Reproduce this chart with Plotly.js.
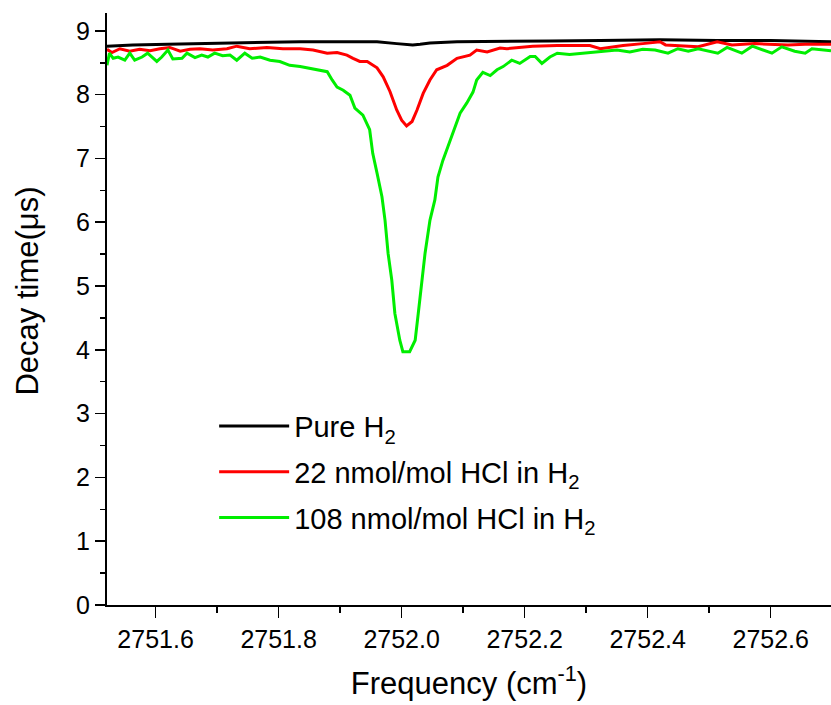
<!DOCTYPE html>
<html>
<head>
<meta charset="utf-8">
<script src="https://cdn.plot.ly/plotly-3.0.1.min.js"></script>
<style>html,body{margin:0;padding:0;background:#fff;}#chart{width:831px;height:705px;}</style>
</head>
<body>
<div id="chart"></div>
<script>
// Pure H2
const pureX = [2751.521,2751.563,2751.620,2751.672,2751.726,2751.786,2751.835,2751.900,2751.960,2751.992,2752.018,2752.030,2752.046,2752.090,2752.160,2752.241,2752.323,2752.420,2752.513,2752.600,2752.698];
const pureY = [8.76,8.78,8.79,8.80,8.81,8.82,8.83,8.83,8.83,8.80,8.78,8.79,8.81,8.83,8.84,8.84,8.85,8.86,8.85,8.85,8.83];

// 22 nmol/mol HCl in H2
const hcl22X = [2751.521,2751.529,2751.542,2751.558,2751.574,2751.591,2751.607,2751.623,2751.640,2751.656,2751.672,2751.693,2751.716,2751.732,2751.753,2751.781,2751.807,2751.835,2751.856,2751.879,2751.895,2751.911,2751.921,2751.932,2751.944,2751.960,2751.970,2751.981,2751.992,2752.000,2752.008,2752.017,2752.025,2752.035,2752.046,2752.057,2752.074,2752.090,2752.111,2752.122,2752.139,2752.160,2752.171,2752.197,2752.213,2752.253,2752.279,2752.306,2752.323,2752.360,2752.392,2752.420,2752.429,2752.482,2752.513,2752.537,2752.574,2752.600,2752.628,2752.656,2752.698];
const hcl22Y = [8.71,8.66,8.72,8.68,8.71,8.69,8.72,8.74,8.68,8.71,8.72,8.70,8.72,8.76,8.72,8.74,8.72,8.72,8.70,8.65,8.66,8.62,8.57,8.52,8.52,8.42,8.28,8.05,7.76,7.60,7.51,7.58,7.76,8.02,8.23,8.39,8.46,8.57,8.62,8.70,8.67,8.73,8.72,8.75,8.76,8.77,8.77,8.77,8.72,8.77,8.80,8.83,8.78,8.75,8.83,8.78,8.80,8.79,8.78,8.79,8.79];

// 108 nmol/mol HCl in H2
const hcl108X = [2751.521,2751.525,2751.531,2751.539,2751.550,2751.558,2751.566,2751.578,2751.587,2751.602,2751.610,2751.620,2751.628,2751.643,2751.651,2751.664,2751.675,2751.685,2751.696,2751.709,2751.721,2751.732,2751.745,2751.757,2751.770,2751.786,2751.802,2751.818,2751.835,2751.851,2751.867,2751.879,2751.887,2751.895,2751.905,2751.916,2751.924,2751.937,2751.948,2751.953,2751.960,2751.968,2751.973,2751.978,2751.984,2751.989,2751.997,2752.002,2752.013,2752.022,2752.027,2752.033,2752.038,2752.046,2752.054,2752.059,2752.067,2752.075,2752.087,2752.095,2752.106,2752.116,2752.122,2752.132,2752.144,2752.155,2752.165,2752.179,2752.192,2752.209,2752.217,2752.228,2752.241,2752.253,2752.273,2752.295,2752.323,2752.350,2752.371,2752.392,2752.412,2752.433,2752.449,2752.466,2752.482,2752.514,2752.529,2752.553,2752.570,2752.602,2752.618,2752.639,2752.656,2752.667,2752.698];
const hcl108Y = [8.46,8.65,8.57,8.59,8.54,8.65,8.54,8.59,8.65,8.52,8.59,8.70,8.56,8.57,8.65,8.58,8.62,8.59,8.65,8.61,8.62,8.54,8.65,8.57,8.59,8.54,8.52,8.46,8.44,8.41,8.39,8.36,8.23,8.12,8.07,7.99,7.79,7.68,7.45,7.08,6.77,6.40,6.03,5.51,5.09,4.57,4.15,3.97,3.97,4.15,4.57,5.09,5.51,6.03,6.35,6.71,6.97,7.18,7.49,7.71,7.87,8.04,8.23,8.35,8.30,8.39,8.44,8.54,8.49,8.60,8.60,8.49,8.59,8.65,8.63,8.65,8.67,8.70,8.67,8.71,8.70,8.65,8.72,8.68,8.72,8.65,8.74,8.65,8.76,8.65,8.75,8.68,8.65,8.72,8.69];

const seriesNames = ['Pure H<sub>2</sub>', '22 nmol/mol HCl in H<sub>2</sub>', '108 nmol/mol HCl in H<sub>2</sub>'];
const xTitle = 'Frequency (cm<sup>-1</sup>)';
const yTitle = 'Decay time(μs)';

const FONT = 'Liberation Sans, Arial, sans-serif';

const traces = [
  {x: pureX, y: pureY, name: seriesNames[0], mode: 'lines', line: {color: '#000000', width: 3}, legendgroup: 'a'},
  {x: hcl22X, y: hcl22Y, name: seriesNames[1], mode: 'lines', line: {color: '#ff0000', width: 3}, legendgroup: 'b'},
  {x: hcl108X, y: hcl108Y, name: seriesNames[2], mode: 'lines', line: {color: '#00ee00', width: 3}, legendgroup: 'c'}
];

const layout = {
  width: 831, height: 705,
  margin: {l: 107, r: 0, t: 13, b: 100},
  paper_bgcolor: '#ffffff', plot_bgcolor: '#ffffff',
  font: {family: FONT, color: '#000000', size: 22},
  showlegend: true,
  legend: {
    x: 0.148, y: 0.345, xanchor: 'left', yanchor: 'top',
    bgcolor: 'rgba(0,0,0,0)', borderwidth: 0,
    font: {family: FONT, size: 29, color: '#000000'},
    tracegroupgap: 5, itemwidth: 70
  },
  xaxis: {
    range: [2751.521, 2752.698],
    dtick: 0.2, tick0: 2751.6, tickformat: '.1f',
    ticks: 'outside', ticklen: 11, tickwidth: 1.5, tickcolor: '#000',
    minor: {dtick: 0.1, ticks: 'outside', ticklen: 6, tickwidth: 1.5, tickcolor: '#000', showgrid: false},
    showline: true, linecolor: '#000', linewidth: 2,
    showgrid: false, zeroline: false,
    tickfont: {family: FONT, size: 25, color: '#000'},
    title: {text: xTitle, font: {family: FONT, size: 31, color: '#000'}, standoff: 20}
  },
  yaxis: {
    range: [0, 9.28],
    dtick: 1, tick0: 0,
    ticks: 'outside', ticklen: 10, tickwidth: 1.5, tickcolor: '#000',
    minor: {dtick: 0.5, ticks: 'outside', ticklen: 5, tickwidth: 1.5, tickcolor: '#000', showgrid: false},
    showline: true, linecolor: '#000', linewidth: 2,
    showgrid: false, zeroline: false,
    tickfont: {family: FONT, size: 25, color: '#000'},
    title: {text: '', font: {family: FONT, size: 31, color: '#000'}}
  },
  annotations: [{
    text: yTitle, textangle: -90, showarrow: false,
    xref: 'paper', yref: 'paper', x: -0.11, y: 0.53,
    xanchor: 'center', yanchor: 'middle',
    font: {family: FONT, size: 31, color: '#000'}
  }]
};

Plotly.newPlot('chart', traces, layout, {displayModeBar: false, staticPlot: true});
</script>
</body>
</html>
